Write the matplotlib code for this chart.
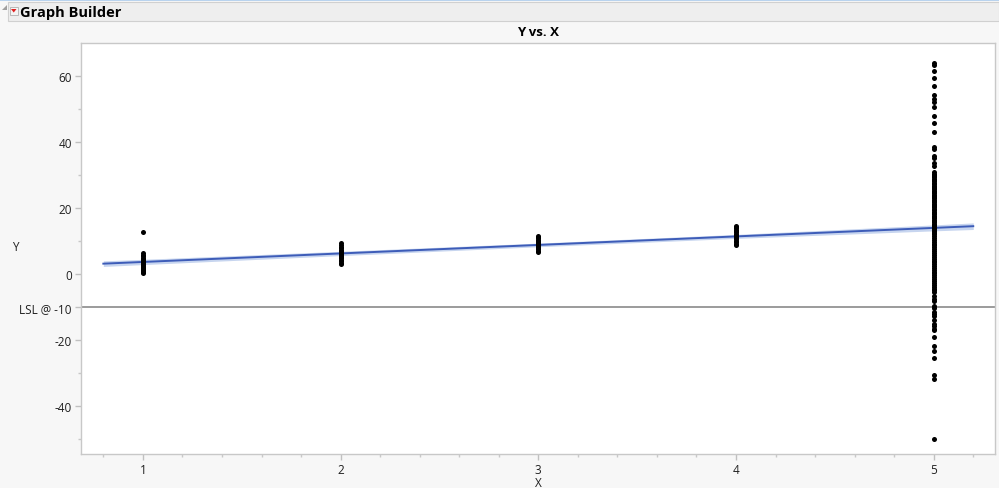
import numpy as np
import matplotlib
matplotlib.use("Agg")
import matplotlib.pyplot as plt
from matplotlib.patches import Rectangle, Polygon
from matplotlib.ticker import FixedLocator, MultipleLocator

# ---------------- data ----------------
x_levels = [1, 2, 3, 4, 5]
y_at_x1 = [0.2, 0.6, 1.0, 1.3, 1.6, 1.9, 2.2, 2.5, 2.8, 3.0, 3.3, 3.6, 3.9, 4.2,
           4.6, 5.0, 5.4, 5.8, 6.3, 12.6]
y_at_x2 = [3.0, 3.5, 4.0, 4.4, 4.8, 5.2, 5.5, 5.8, 6.1, 6.4, 6.7, 7.0, 7.4, 7.8,
           8.2, 8.7, 9.3]
y_at_x3 = [6.7, 7.1, 7.5, 7.9, 8.2, 8.5, 8.8, 9.1, 9.4, 9.7, 10.0, 10.4, 10.8,
           11.2, 11.5]
y_at_x4 = [8.7, 9.2, 9.7, 10.1, 10.5, 10.9, 11.3, 11.6, 11.9, 12.2, 12.6, 13.0,
           13.4, 13.9, 14.4, 14.7]
y_at_x5 = [63.9, 63.2, 61.6, 59.3, 56.9, 54.2, 53.0, 52.0, 50.5, 48.0, 45.8, 43.1,
           38.4, 37.8, 35.9, 35.3, 33.8, 32.8,
           30.9, 30.4, 30.1, 29.6, 29.3, 28.8, 28.5, 28.2, 27.7, 27.3, 26.8, 26.5,
           26.2, 25.8, 25.3, 24.9, 24.6, 24.1, 23.7, 23.4, 22.9, 22.5, 22.2, 21.7,
           21.3, 20.8, 20.5, 20.2, 19.7, 19.3, 18.8, 18.5, 18.1, 17.6, 17.3, 16.9,
           16.5, 16.2, 15.7, 15.3, 14.8, 14.5, 14.1, 13.7, 13.2, 12.9, 12.5, 12.1,
           11.5, 10.9, 10.4, 9.8, 9.2, 8.7, 8.1, 7.5, 7.0, 6.4, 5.8, 5.3, 4.7, 4.1,
           3.6, 3.0, 2.4, 1.9, 1.3, 0.7, 0.2, -0.4, -1.0, -1.5, -2.1, -2.7, -3.2,
           -3.8, -4.4, -4.9, -5.5,
           -6.6, -7.4, -8.1, -9.6, -10.4, -11.6, -12.1, -12.8, -13.8, -15.2, -15.6,
           -16.7, -16.9, -19.2, -21.9, -23.2, -25.5, -30.5, -31.8, -50.0]

lsl_value = -10
lsl_label = "LSL @ -10"
y_major_ticks = [-40, -20, 0, 20, 40, 60]
y_minor_ticks = [-50, -30, 10, 30, 50]
x_ticks = [1, 2, 3, 4, 5]
fit_range = [0.8, 5.2]
# confidence band half-width
band_x = [0.8, 1.0, 2.0, 3.0, 4.0, 5.0, 5.2]
band_halfwidth = [0.85, 0.8, 0.65, 0.55, 0.6, 0.9, 1.0]

title = "Y vs. X"
header = "Graph Builder"

# ---------------- figure ----------------
W, H = 999, 489
plt.rcParams['font.family'] = ['Open Sans', 'DejaVu Sans']
fig = plt.figure(figsize=(W / 100, H / 100), dpi=100, facecolor='#f7f7f7')


def fx(px):
    return px / W


def fy(py):
    return 1 - py / H


# header bar
fig.patches.append(Rectangle((fx(0), fy(1.5)), 1, 1.5 / H, transform=fig.transFigure,
                             facecolor='#b9d3ee', edgecolor='none'))
fig.patches.append(Rectangle((fx(8), fy(22)), fx(991), 19 / H, transform=fig.transFigure,
                             facecolor='#eeeeee', edgecolor='#d0d0d0', lw=0.8))
fig.patches.append(Polygon([[fx(2), fy(11)], [fx(7), fy(11)], [fx(7), fy(6)]],
                           closed=True, transform=fig.transFigure,
                           facecolor='#a0a0a0', edgecolor='none'))
fig.patches.append(Rectangle((fx(9.5), fy(16)), 8 / W, 8 / H, transform=fig.transFigure,
                             facecolor='#f4f4f4', edgecolor='#b0b0b0', lw=0.6))
fig.patches.append(Polygon([[fx(11), fy(10)], [fx(16.5), fy(10)], [fx(13.75), fy(13.5)]],
                           closed=True, transform=fig.transFigure,
                           facecolor='#e02020', edgecolor='none'))
fig.text(fx(20), fy(12.5), header, fontsize=10.5, fontweight='bold',
         ha='left', va='center', color='black')

# plot axes
left, right, top, bottom = 81, 995, 44, 455
ax = fig.add_axes([fx(left), fy(bottom), (right - left) / W, (bottom - top) / H])
ax.set_facecolor('white')
ax.set_xlim(0.687, 5.31)
ax.set_ylim(-54.5, 70)

for s in ax.spines.values():
    s.set_color('#c8c8c8')
    s.set_linewidth(1.0)

# fit computed from the points
xs = np.concatenate([[x_levels[i]] * len(v) for i, v in
                     enumerate([y_at_x1, y_at_x2, y_at_x3, y_at_x4, y_at_x5])])
ys = np.concatenate([y_at_x1, y_at_x2, y_at_x3, y_at_x4, y_at_x5])
slope, intercept = np.polyfit(xs, ys, 1)
bx = np.array(band_x)
bfit = intercept + slope * bx
ax.fill_between(bx, bfit - np.array(band_halfwidth), bfit + np.array(band_halfwidth),
                color='#c7d5ef', lw=0, zorder=2)
fx_line = np.array(fit_range)
ax.plot(fx_line, intercept + slope * fx_line, color='#3d5cb8', lw=1.4, zorder=3)

# LSL reference line
ax.axhline(lsl_value, color='#8a8a8a', lw=1.2, zorder=2.5)

# points
ax.scatter(xs, ys, s=13, color='black', linewidths=0, zorder=4)

# ticks
yt = sorted(y_major_ticks + [lsl_value])
ax.yaxis.set_major_locator(FixedLocator(yt))
ax.set_yticklabels([lsl_label if v == lsl_value else f"{v:g}" for v in yt])
ax.yaxis.set_minor_locator(FixedLocator(y_minor_ticks))
ax.xaxis.set_major_locator(FixedLocator(x_ticks))
ax.set_xticklabels([str(v) for v in x_ticks])
ax.xaxis.set_minor_locator(MultipleLocator(0.2))

ax.tick_params(axis='both', which='major', length=4, width=1, color='#c0c0c0',
               labelsize=8.5, labelcolor='#202020', pad=2.5)
ax.tick_params(axis='both', which='minor', length=2.5, width=1, color='#c8c8c8')

# title and axis labels
fig.text(fx((left + right) / 2), fy(33), title, fontsize=9.5, fontweight='bold',
         ha='center', va='center')
fig.text(fx(15), fy(248), "Y", fontsize=8.5, ha='center', va='center', color='#202020')
fig.text(fx((left + right) / 2), fy(483.5), "X", fontsize=8.5, ha='center', va='center',
         color='#202020')

fig.savefig("out.png", dpi=100, facecolor=fig.get_facecolor())
